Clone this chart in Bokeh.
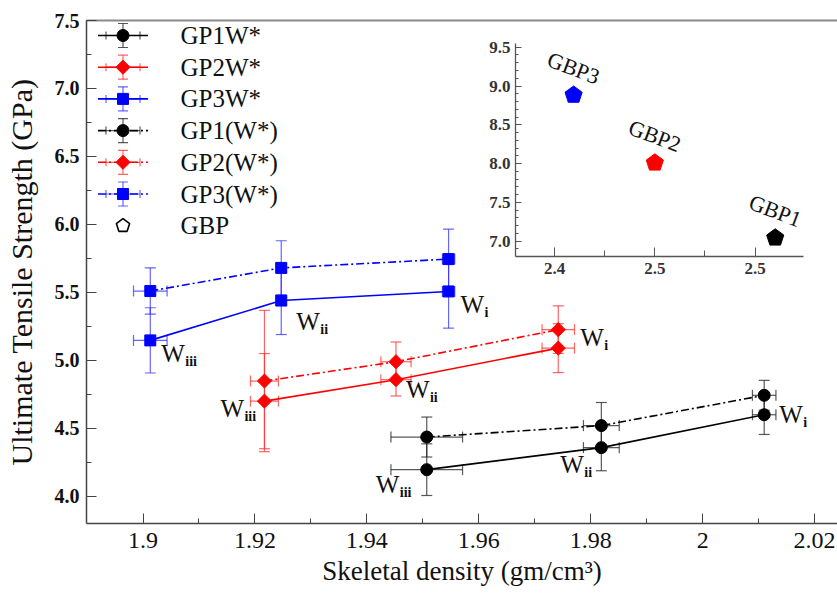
import math
from bokeh.plotting import figure
from bokeh.models import (ColumnDataSource, Whisker, TeeHead, LinearAxis, Range1d,
                          SingleIntervalTicker, FixedTicker, NumeralTickFormatter)
from bokeh.core.properties import value
from bokeh.embed import file_html
from bokeh.resources import INLINE

# ---------------- data ----------------
gp1_density = [1.9507, 1.9819, 2.0110]
gp1_density_err = [0.0064, 0.0032, 0.0021]
gp1_w_uts = [4.196, 4.358, 4.600]
gp1_w_err = [0.19, 0.17, 0.145]
gp1_pw_uts = [4.436, 4.520, 4.743]
gp1_pw_err = [0.147, 0.17, 0.11]

gp2_density = [1.9217, 1.9452, 1.9742]
gp2_density_err = [0.0025, 0.0027, 0.0029]
gp2_w_uts = [4.70, 4.858, 5.09]
gp2_w_err = [0.35, 0.12, 0.18]
gp2_pw_uts = [4.848, 4.99, 5.226]
gp2_pw_err = [0.52, 0.145, 0.175]

gp3_density = [1.9013, 1.9247, 1.9546]
gp3_density_err = [0.003, 0.0009, 0.0011]
gp3_w_uts = [5.147, 5.44, 5.507]
gp3_w_err = [0.24, 0.25, 0.27]
gp3_pw_uts = [5.51, 5.68, 5.745]
gp3_pw_err = [0.17, 0.20, 0.22]

sample_subscripts = ["iii", "ii", "i"]

gbp_names = ["GBP1", "GBP2", "GBP3"]
gbp_density = [2.62, 2.50, 2.419]
gbp_uts = [7.044, 8.01, 8.884]

x_tick_values = [1.9, 1.92, 1.94, 1.96, 1.98, 2.0, 2.02]
x_tick_labels = ["1.9", "1.92", "1.94", "1.96", "1.98", "2", "2.02"]
x_minor_values = [1.91, 1.93, 1.95, 1.97, 1.99, 2.01]
inset_x_tick_values = [2.4, 2.5, 2.6]
inset_x_tick_labels = ["2.4", "2.5", "2.5"]
inset_x_minor_values = [2.45, 2.55]

# ---------------- styling ----------------
SERIF = "Liberation Serif"
W, H = 837, 593
BL, BR, BT, BB = 86, 0, 20, 70
FRAME_W, FRAME_H = W - BL - BR, H - BT - BB
AX = "#444444"

p = figure(width=W, height=H, x_range=Range1d(1.8899, 2.0241), y_range=Range1d(3.8, 7.5),
           output_backend="svg", toolbar_location=None,
           min_border_left=BL, min_border_right=BR, min_border_top=BT, min_border_bottom=BB)
p.xgrid.visible = False
p.ygrid.visible = False
p.outline_line_color = None

for ax in (p.xaxis[0], p.yaxis[0]):
    ax.axis_line_color = AX
    ax.axis_line_width = 1.5
    ax.major_tick_in = 10
    ax.major_tick_out = 0
    ax.minor_tick_in = 5
    ax.minor_tick_out = 0
    ax.major_tick_line_color = AX
    ax.minor_tick_line_color = AX
    ax.major_label_text_font = SERIF
    ax.major_label_text_color = "#111111"
    ax.axis_label_text_font = SERIF
    ax.axis_label_text_font_style = "normal"
    ax.axis_label_text_color = "#111111"

p.xaxis.ticker = FixedTicker(ticks=x_tick_values, minor_ticks=x_minor_values)
p.xaxis.major_label_overrides = dict(zip(x_tick_values, x_tick_labels))
p.xaxis.major_label_text_font_size = "24px"
p.xaxis.major_label_standoff = 9
p.xaxis.axis_label = "Skeletal density (gm/cm³)"
p.xaxis.axis_label_text_font_size = "27px"
p.xaxis.axis_label_standoff = 5

p.yaxis.ticker = SingleIntervalTicker(interval=0.5, num_minor_ticks=2)
p.yaxis.formatter = NumeralTickFormatter(format="0.0")
p.yaxis.major_label_text_font_size = "20px"
p.yaxis.major_label_text_font_style = "bold"
p.yaxis.major_label_standoff = 7
p.yaxis.axis_label = "Ultimate Tensile Strength (GPa)"
p.yaxis.axis_label_text_font_size = "30px"
p.yaxis.axis_label_standoff = 14

# top frame line (no right-hand border in the original)
top = LinearAxis(ticker=FixedTicker(ticks=[]), axis_line_color="#8a8a8a", axis_line_width=2,
                 major_tick_out=0, minor_tick_out=0, major_tick_in=0, minor_tick_in=0,
                 major_label_text_font_size="0px")
p.add_layout(top, "above")

DASHDOT = "8 3 2 3"
series = [
    dict(name="GP1W*", x=gp1_density, xe=gp1_density_err, y=gp1_w_uts, ye=gp1_w_err,
         color="#000000", bar="#222222", marker="circle", size=12, angle=0, dash="solid",
         labels=[(-51, 15), (-41, 17), (15, 0)]),
    dict(name="GP2W*", x=gp2_density, xe=gp2_density_err, y=gp2_w_uts, ye=gp2_w_err,
         color="#ff0000", bar="#ff3030", marker="square", size=10, angle=math.pi / 4, dash="solid",
         labels=[(-44, 7), (10, 10), (22, -11)]),
    dict(name="GP3W*", x=gp3_density, xe=gp3_density_err, y=gp3_w_uts, ye=gp3_w_err,
         color="#0000ff", bar="#3030ff", marker="square", size=11, angle=0, dash="solid",
         labels=[(11, 13), (15, 21), (12, 13)]),
    dict(name="GP1(W*)", x=gp1_density, xe=gp1_density_err, y=gp1_pw_uts, ye=gp1_pw_err,
         color="#000000", bar="#222222", marker="circle", size=12, angle=0, dash=DASHDOT, labels=None),
    dict(name="GP2(W*)", x=gp2_density, xe=gp2_density_err, y=gp2_pw_uts, ye=gp2_pw_err,
         color="#ff0000", bar="#ff3030", marker="square", size=10, angle=math.pi / 4, dash=DASHDOT, labels=None),
    dict(name="GP3(W*)", x=gp3_density, xe=gp3_density_err, y=gp3_pw_uts, ye=gp3_pw_err,
         color="#0000ff", bar="#3030ff", marker="square", size=11, angle=0, dash=DASHDOT, labels=None),
]


def add_whiskers(src, base, upper, lower, dim, color, cap, xr="default", yr="default"):
    kw = dict(line_color=color, line_alpha=0.75, line_width=1.2)
    p.add_layout(Whisker(source=src, base=base, upper=upper, lower=lower, dimension=dim,
                         level="underlay", x_range_name=xr, y_range_name=yr,
                         upper_head=TeeHead(size=cap, **kw), lower_head=TeeHead(size=cap, **kw), **kw))


for s in series:
    src = ColumnDataSource(dict(
        x=s["x"], y=s["y"],
        upper=[v + e for v, e in zip(s["y"], s["ye"])],
        lower=[v - e for v, e in zip(s["y"], s["ye"])],
        right=[v + e for v, e in zip(s["x"], s["xe"])],
        left=[v - e for v, e in zip(s["x"], s["xe"])],
    ))
    add_whiskers(src, "x", "upper", "lower", "height", s["bar"], 11)
    add_whiskers(src, "y", "right", "left", "width", s["bar"], 11)
    p.line("x", "y", source=src, line_color=s["color"], line_width=1.6, line_dash=s["dash"])
    p.scatter("x", "y", source=src, marker=s["marker"], size=s["size"], angle=s["angle"],
              fill_color=s["color"], line_color=s["color"])
    if s["labels"]:
        offs = s["labels"]
        p.text(x=s["x"], y=s["y"], text=["W"] * len(s["x"]),
               x_offset=[o[0] for o in offs], y_offset=[o[1] for o in offs],
               text_font=value(SERIF), text_font_size="25px", text_color="#111111",
               text_align="left", text_baseline="middle")
        p.text(x=s["x"], y=s["y"], text=sample_subscripts,
               x_offset=[o[0] + 24 for o in offs], y_offset=[o[1] + 8 for o in offs],
               text_font=value(SERIF), text_font_size="14px", text_font_style="bold",
               text_color="#111111", text_align="left", text_baseline="middle")

# ---------------- inset (GBP) ----------------
INSET_X = (2.3611, 2.6482)
INSET_Y = (6.803, 9.548)
IL, IR, IT, IB = 429, 717, 23, 236          # inset box, px from frame left / top
kx = (INSET_X[1] - INSET_X[0]) / (IR - IL)
ky = (INSET_Y[1] - INSET_Y[0]) / (IB - IT)
p.extra_x_ranges = {"inset_x": Range1d(INSET_X[0] - IL * kx, INSET_X[1] + (FRAME_W - IR) * kx),
                    "px_x": Range1d(0, FRAME_W)}
p.extra_y_ranges = {"inset_y": Range1d(INSET_Y[0] - (FRAME_H - IB) * ky, INSET_Y[1] + IT * ky),
                    "px_y": Range1d(FRAME_H, 0)}

iy = LinearAxis(x_range_name="inset_x", y_range_name="inset_y", fixed_location=INSET_X[0],
                bounds=INSET_Y, ticker=SingleIntervalTicker(interval=0.5, num_minor_ticks=5),
                formatter=NumeralTickFormatter(format="0.0"))
ix = LinearAxis(x_range_name="inset_x", y_range_name="inset_y", fixed_location=INSET_Y[0],
                bounds=INSET_X, ticker=FixedTicker(ticks=inset_x_tick_values, minor_ticks=inset_x_minor_values),
                major_label_overrides=dict(zip(inset_x_tick_values, inset_x_tick_labels)))
for ax in (iy, ix):
    ax.axis_line_color = "#555555"
    ax.axis_line_width = 1.3
    ax.major_tick_out = 0
    ax.minor_tick_out = 0
    ax.major_tick_line_color = "#555555"
    ax.minor_tick_line_color = "#555555"
    ax.major_label_text_font = SERIF
    ax.major_label_text_font_size = "17px"
    ax.major_label_text_font_style = "bold"
    ax.major_label_text_color = "#333333"
iy.major_tick_in = 6
iy.minor_tick_in = 3
iy.major_label_standoff = 5
ix.major_tick_in = 9
ix.minor_tick_in = 6
ix.major_label_standoff = 6
p.add_layout(iy, "left")
p.add_layout(ix, "below")

gbp_colors = ["#000000", "#ff0000", "#0000ff"]
p.ngon(x=gbp_density, y=gbp_uts, radius=9, radius_units="screen", n=5,
       fill_color=gbp_colors, line_color=gbp_colors,
       x_range_name="inset_x", y_range_name="inset_y")
p.text(x=gbp_density, y=gbp_uts, text=gbp_names, y_offset=-27, angle=-0.36,
       text_font=value(SERIF), text_font_size="22px", text_color="#111111",
       text_align="center", text_baseline="middle",
       x_range_name="inset_x", y_range_name="inset_y")

# ---------------- legend (drawn in pixel space, with error-bar keys) ----------------
LEG_CX, LEG_TOP, LEG_ROW, LEG_HALF, LEG_TX = 36.5, 15, 31.7, 25, 94
PX = dict(x_range_name="px_x", y_range_name="px_y")
for i, s in enumerate(series):
    ry = LEG_TOP + i * LEG_ROW
    ls = ColumnDataSource(dict(cx=[LEG_CX], cy=[ry], x0=[LEG_CX - LEG_HALF], x1=[LEG_CX + LEG_HALF],
                               top=[ry - 12], bot=[ry + 12], l=[LEG_CX - 17], r=[LEG_CX + 17],
                               label=[s["name"]]))
    add_whiskers(ls, "cx", "top", "bot", "height", s["bar"], 10, "px_x", "px_y")
    add_whiskers(ls, "cy", "r", "l", "width", s["bar"], 8, "px_x", "px_y")
    p.segment(x0="x0", y0="cy", x1="x1", y1="cy", source=ls, line_color=s["color"],
              line_width=1.6, line_dash=s["dash"], **PX)
    p.scatter("cx", "cy", source=ls, marker=s["marker"], size=s["size"], angle=s["angle"],
              fill_color=s["color"], line_color=s["color"], **PX)
    p.text(x=LEG_TX, y="cy", text="label", source=ls, text_font=value(SERIF), text_font_size="25px",
           text_color="#111111", text_align="left", text_baseline="middle", **PX)

ry = LEG_TOP + len(series) * LEG_ROW
gs = ColumnDataSource(dict(cx=[LEG_CX], cy=[ry], label=["GBP"]))
p.ngon(x="cx", y="cy", source=gs, radius=7, radius_units="screen", n=5,
       fill_color=None, line_color="#000000", line_width=1.6, **PX)
p.text(x=LEG_TX, y="cy", text="label", source=gs, text_font=value(SERIF), text_font_size="25px",
       text_color="#111111", text_align="left", text_baseline="middle", **PX)

open("out.html", "w").write(file_html(p, INLINE))
